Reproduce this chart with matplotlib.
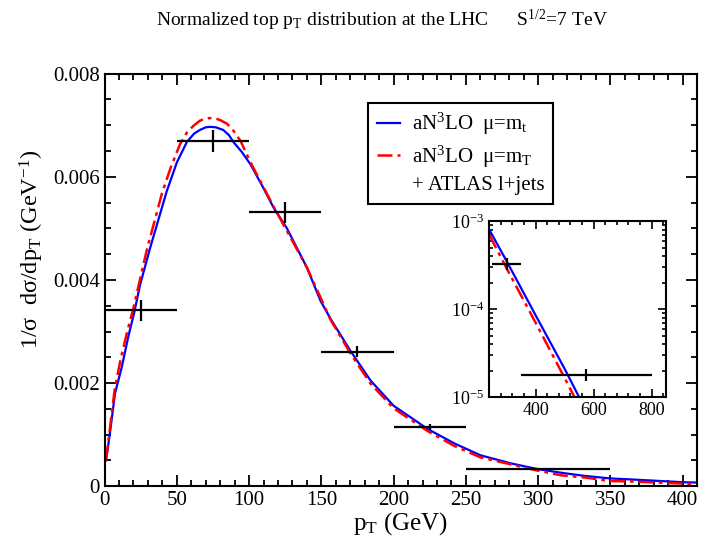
import matplotlib
matplotlib.use("Agg")
import matplotlib.pyplot as plt
from matplotlib.lines import Line2D
from matplotlib.ticker import MultipleLocator, LogLocator, NullFormatter, FuncFormatter

plt.rcParams["font.family"] = ["Liberation Serif", "DejaVu Serif"]
plt.rcParams["mathtext.fontset"] = "custom"
plt.rcParams["mathtext.rm"] = "Liberation Serif"
plt.rcParams["mathtext.it"] = "Liberation Serif:italic"
plt.rcParams["mathtext.bf"] = "Liberation Serif:bold"

# aN3LO, mu = m_t (blue)
blue_x = [1, 3.7, 7.2, 11.8, 16.4, 20.6, 24.5, 31.5, 43, 50, 57, 62, 66, 70, 73, 77,
          82, 86, 89, 95, 101, 109, 117, 126, 140, 149.5, 156.5, 170, 184, 200,
          223.5, 242, 260, 281.5, 300, 316, 332, 350, 365, 400, 410]
blue_y = [0.0005, 0.00103, 0.0018, 0.0023, 0.0029, 0.00338, 0.0039, 0.00462, 0.00572,
          0.00628, 0.00668, 0.00684, 0.00691, 0.00696, 0.00697, 0.00696, 0.00691,
          0.00681, 0.00668, 0.00648, 0.00624, 0.00583, 0.0054, 0.00501, 0.00424,
          0.00359, 0.00324, 0.00263, 0.00205, 0.00156, 0.00111, 0.00083, 0.0006,
          0.00044, 0.00033, 0.00026, 0.0002, 0.00015, 0.00013, 0.000077, 0.00007]

# aN3LO, mu = m_T (red)
red_x = [1, 3.5, 7, 11, 15.5, 19.9, 29.2, 39.6, 46, 52.3, 57, 61.5, 66, 70, 73, 77,
         80, 84.7, 89, 94, 101, 109, 117, 140, 156.5, 170, 184, 200, 223.5, 242,
         260, 281.5, 300, 316, 332, 350, 365, 400, 410]
red_y = [0.0005, 0.00108, 0.00188, 0.00245, 0.00298, 0.00345, 0.00458, 0.00567,
         0.0062, 0.00664, 0.00686, 0.00699, 0.00709, 0.00713, 0.00714, 0.00713,
         0.0071, 0.00703, 0.0069, 0.0067, 0.00628, 0.00585, 0.00542, 0.00424,
         0.00322, 0.00258, 0.00199, 0.00151, 0.00107, 0.00078, 0.00056, 0.00042,
         0.0003, 0.00021, 0.00017, 0.0001, 0.00009, 0.00005, 0.00004]

# ATLAS l+jets
atlas_x = [25, 75, 125, 175, 225, 300]
atlas_xerr = [25, 25, 25, 25, 25, 50]
atlas_y = [0.00341, 0.0067, 0.00531, 0.00261, 0.00114, 0.00034]
atlas_yerr = [0.0002, 0.00021, 0.0002, 0.0001, 0.00006, 0.00001]

# inset (log scale)
blue_in_x = [240, 300, 400, 500, 550]
blue_in_y = [8.0e-4, 3.5e-4, 8.5e-5, 2.1e-5, 1.0e-5]
red_in_x = [240, 300, 400, 500, 534]
red_in_y = [7.0e-4, 2.9e-4, 7.0e-5, 1.65e-5, 1.0e-5]
atlas_in_x = [300, 575]
atlas_in_xerr = [50, 225]
atlas_in_y = [3.3e-4, 1.8e-5]

dashdot = (0, (6, 2, 1.5, 2))

fig = plt.figure(figsize=(7.02, 5.42), dpi=100)
ax = fig.add_axes([0.149, 0.103, 0.844, 0.761])

ax.plot(blue_x, blue_y, color="blue", lw=1.6)
ax.plot(red_x, red_y, color="red", lw=1.8, linestyle=dashdot)
ax.errorbar(atlas_x, atlas_y, xerr=atlas_xerr, yerr=atlas_yerr, fmt="none",
            ecolor="black", elinewidth=1.6, capsize=0)

ax.set_xlim(0, 410)
ax.set_ylim(0, 0.008)
ax.xaxis.set_major_locator(MultipleLocator(50))
ax.xaxis.set_minor_locator(MultipleLocator(10))
ax.yaxis.set_major_locator(MultipleLocator(0.002))
ax.yaxis.set_minor_locator(MultipleLocator(0.0005))
ax.yaxis.set_major_formatter(FuncFormatter(lambda v, p: "0" if abs(v) < 1e-9 else f"{v:.3f}"))
ax.tick_params(which="both", direction="in", top=True, right=True, labelsize=15, width=1.3)
ax.tick_params(which="major", length=8)
ax.tick_params(which="minor", length=4)
for s in ax.spines.values():
    s.set_linewidth(1.5)

ax.set_xlabel(r"p$_\mathrm{T}$ (GeV)", fontsize=18, labelpad=0)
ax.set_ylabel(r"1/σ  dσ/dp$_\mathrm{T}$ (GeV$^{-1}$)", fontsize=17.5, va="center")
ax.yaxis.set_label_coords(-0.122, 0.575)

handles = [Line2D([], [], color="blue", lw=1.6),
           Line2D([], [], color="red", lw=1.8, linestyle=dashdot),
           Line2D([], [], color="none")]
labels = [r"aN$^\mathrm{3}$LO  μ=m$_\mathrm{t}$",
          r"aN$^\mathrm{3}$LO  μ=m$_\mathrm{T}$",
          "+ ATLAS l+jets"]
leg = ax.legend(handles, labels, loc="upper left", bbox_to_anchor=(0.445, 0.93),
                fontsize=15, frameon=True, fancybox=False, edgecolor="black",
                framealpha=1, handlelength=1.1, handletextpad=0.6,
                borderpad=0.4, labelspacing=0.3, borderaxespad=0)
leg.get_frame().set_linewidth(1.5)

fig.text(0.544, 0.962, r"Normalized top p$_\mathrm{T}$ distribution at the LHC      S$^\mathrm{1/2}$=7 TeV",
         ha="center", va="center", fontsize=14)

# inset
axi = fig.add_axes([0.697, 0.267, 0.252, 0.325])
axi.plot(blue_in_x, blue_in_y, color="blue", lw=1.6)
axi.plot(red_in_x, red_in_y, color="red", lw=1.8, linestyle=dashdot)
axi.errorbar(atlas_in_x, atlas_in_y, xerr=atlas_in_xerr, fmt="none",
             ecolor="black", elinewidth=1.6, capsize=0)
axi.plot(atlas_in_x, atlas_in_y, "|", color="black", ms=9, mew=1.6)
axi.set_yscale("log")
axi.set_xlim(240, 850)
axi.set_ylim(1e-5, 1e-3)
axi.xaxis.set_major_locator(MultipleLocator(200))
axi.xaxis.set_minor_locator(MultipleLocator(40))
axi.yaxis.set_major_locator(LogLocator(base=10))
axi.yaxis.set_minor_locator(LogLocator(base=10, subs=range(2, 10)))
axi.yaxis.set_minor_formatter(NullFormatter())
axi.tick_params(which="both", direction="in", top=True, right=True, labelsize=13, width=1.2)
axi.tick_params(which="major", length=6)
axi.tick_params(which="minor", length=3)
for s in axi.spines.values():
    s.set_linewidth(1.5)

fig.savefig("out.png", dpi=100)
